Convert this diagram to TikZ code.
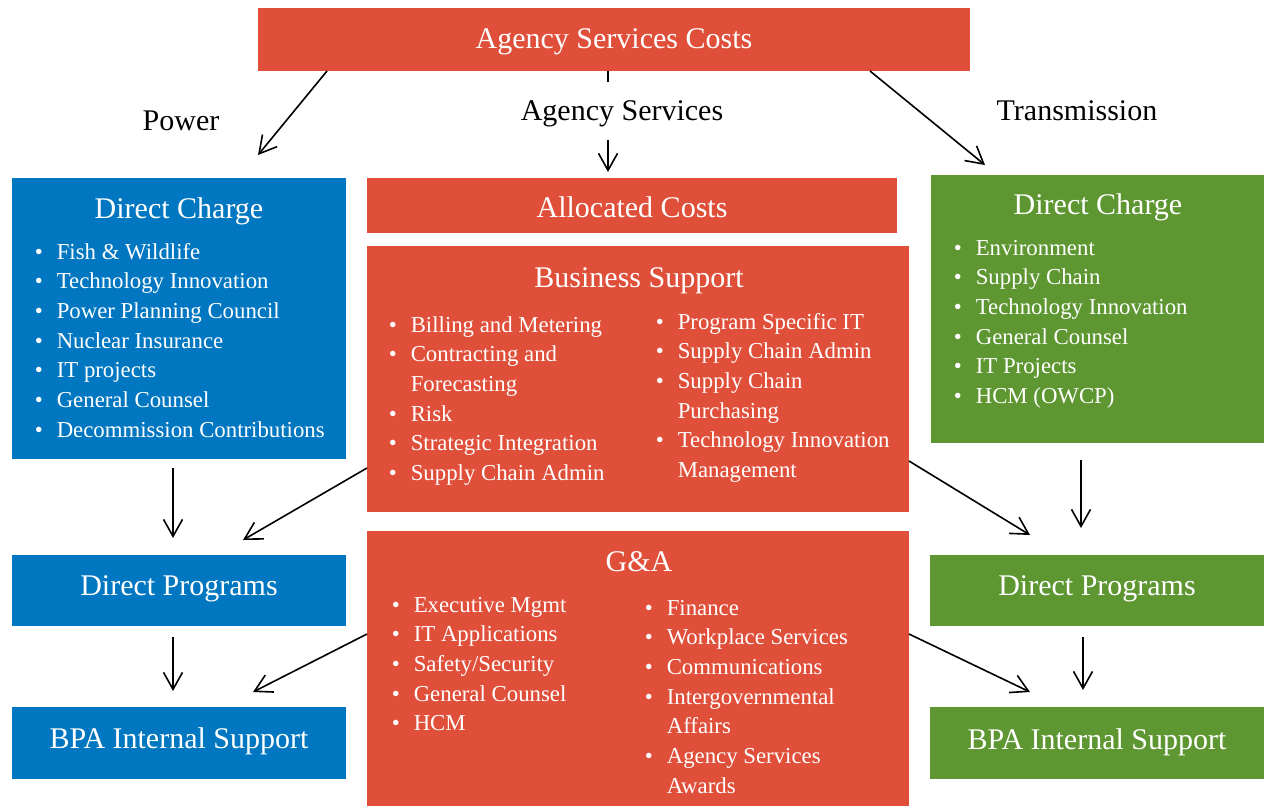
\documentclass[tikz,border=0pt]{standalone}
\usepackage{fontspec}
\setmainfont{Liberation Serif}
\usetikzlibrary{arrows.meta, positioning}
\definecolor{bpared}{RGB}{224, 79, 58}
\definecolor{bpablue}{RGB}{0, 119, 192}
\definecolor{bpagreen}{RGB}{94, 151, 50}

\begin{document}
\begin{tikzpicture}[x=1pt, y=-1pt, line width=1.6pt,
    box/.style={anchor=north west, inner sep=0pt, outer sep=0pt},
    head/.style={anchor=base, text=white, font=\fontsize{30}{36}\selectfont},
    lbl/.style={anchor=base, font=\fontsize{30}{36}\selectfont},
    items/.style={anchor=base west, inner sep=0pt, text=white, font=\fontsize{22.8}{29.7}\selectfont},
    arr/.style={-{Straight Barb[length=17pt, width=19pt]}}]
    % Page
    \fill[white] (0,0) rectangle (1265,807);
    \useasboundingbox (0,0) rectangle (1265,807);

    % Boxes
    \node[box, fill=bpared, minimum width=712pt, minimum height=63pt] (asc) at (258,8) {};
    \node[box, fill=bpablue, minimum width=334pt, minimum height=281pt] (dcpower) at (12,178) {};
    \node[box, fill=bpared, minimum width=530pt, minimum height=55pt] (alloc) at (367,178) {};
    \node[box, fill=bpared, minimum width=542pt, minimum height=266pt] (bizsup) at (367,246) {};
    \node[box, fill=bpagreen, minimum width=333pt, minimum height=268pt] (dctrans) at (931,175) {};
    \node[box, fill=bpablue, minimum width=334pt, minimum height=71pt] (dppower) at (12,555) {};
    \node[box, fill=bpagreen, minimum width=334pt, minimum height=71pt] (dptrans) at (930,555) {};
    \node[box, fill=bpared, minimum width=542pt, minimum height=275pt] (ganda) at (367,531) {};
    \node[box, fill=bpablue, minimum width=334pt, minimum height=72pt] (ispower) at (12,707) {};
    \node[box, fill=bpagreen, minimum width=334pt, minimum height=72pt] (istrans) at (930,707) {};

    % Headings
    \node[head] (asct) at (614,48) {Agency Services Costs};
    \node[head] (dcpowert) at (179,218) {Direct Charge};
    \node[head] (alloct) at (632,217) {Allocated Costs};
    \node[head] (bizsupt) at (639,287) {Business Support};
    \node[head] (dctranst) at (1098,214) {Direct Charge};
    \node[head] (gandat) at (639,571) {G\&A};
    \node[head] (dppowert) at (179,595) {Direct Programs};
    \node[head] (dptranst) at (1097,595) {Direct Programs};
    \node[head] (ispowert) at (179,748) {BPA Internal Support};
    \node[head] (istranst) at (1097,749) {BPA Internal Support};

    % Branch labels
    \node[lbl] (power) at (181,130) {Power};
    \node[lbl] (agsvc) at (622,120) {Agency Services};
    \node[lbl] (trans) at (1077,120) {Transmission};

    % Lists
    \node[items] (dcpowerl) at (34,259) {\begin{tabular}[t]{@{}l@{\hspace{14pt}}l@{}}
        \textbullet & Fish \& Wildlife\\
        \textbullet & Technology Innovation\\
        \textbullet & Power Planning Council\\
        \textbullet & Nuclear Insurance\\
        \textbullet & IT projects\\
        \textbullet & General Counsel\\
        \textbullet & Decommission Contributions
    \end{tabular}};
    \node[items] (dctransl) at (953,255) {\begin{tabular}[t]{@{}l@{\hspace{14pt}}l@{}}
        \textbullet & Environment\\
        \textbullet & Supply Chain\\
        \textbullet & Technology Innovation\\
        \textbullet & General Counsel\\
        \textbullet & IT Projects\\
        \textbullet & HCM (OWCP)
    \end{tabular}};
    \node[items] (bizsupa) at (388,332) {\begin{tabular}[t]{@{}l@{\hspace{14pt}}l@{}}
        \textbullet & Billing and Metering\\
        \textbullet & Contracting and\\
                    & Forecasting\\
        \textbullet & Risk\\
        \textbullet & Strategic Integration\\
        \textbullet & Supply Chain Admin
    \end{tabular}};
    \node[items] (bizsupb) at (655,329) {\begin{tabular}[t]{@{}l@{\hspace{14pt}}l@{}}
        \textbullet & Program Specific IT\\
        \textbullet & Supply Chain Admin\\
        \textbullet & Supply Chain\\
                    & Purchasing\\
        \textbullet & Technology Innovation\\
                    & Management
    \end{tabular}};
    \node[items] (gandaa) at (391,612) {\begin{tabular}[t]{@{}l@{\hspace{14pt}}l@{}}
        \textbullet & Executive Mgmt\\
        \textbullet & IT Applications\\
        \textbullet & Safety/Security\\
        \textbullet & General Counsel\\
        \textbullet & HCM
    \end{tabular}};
    \node[items] (gandab) at (644,615) {\begin{tabular}[t]{@{}l@{\hspace{14pt}}l@{}}
        \textbullet & Finance\\
        \textbullet & Workplace Services\\
        \textbullet & Communications\\
        \textbullet & Intergovernmental\\
                    & Affairs\\
        \textbullet & Agency Services\\
                    & Awards
    \end{tabular}};

    % Arrow ends
    \coordinate (powtip) at (258,155);
    \coordinate (trtip) at (985,165);
    \coordinate (askink) at (608,82);
    \coordinate (astail) at (608,140);
    \coordinate (astip) at (608,172);
    \coordinate (dcptip) at (173,538);
    \coordinate (dcttip) at (1081,528);
    \coordinate (bsptip) at (243,540);
    \coordinate (bsttip) at (1030,535);
    \coordinate (dpptip) at (173,691);
    \coordinate (dpttip) at (1083,690);
    \coordinate (gaptip) at (253,692);
    \coordinate (gattip) at (1030,692);

    % Connectors
    \draw[arr] ([xshift=69pt]asc.south west) -- (powtip);
    \draw[arr] ([xshift=-100pt]asc.south east) -- (trtip);
    \draw (asc.south -| askink) -- (askink);
    \draw[arr] (astail) -- (astip);
    \draw[arr] ([xshift=-6pt, yshift=-9pt]dcpower.south) -- (dcptip);
    \draw[arr] ([xshift=-16.5pt, yshift=-17pt]dctrans.south) -- (dcttip);
    \draw[arr] ([yshift=-89pt]bizsup.west) -- (bsptip);
    \draw[arr] ([yshift=-82pt]bizsup.east) -- (bsttip);
    \draw[arr] ([xshift=-6pt, yshift=-11pt]dppower.south) -- (dpptip);
    \draw[arr] ([xshift=-14pt, yshift=-11pt]dptrans.south) -- (dpttip);
    \draw[arr] ([yshift=34.5pt]ganda.west) -- (gaptip);
    \draw[arr] ([yshift=34.5pt]ganda.east) -- (gattip);
\end{tikzpicture}
\end{document}
